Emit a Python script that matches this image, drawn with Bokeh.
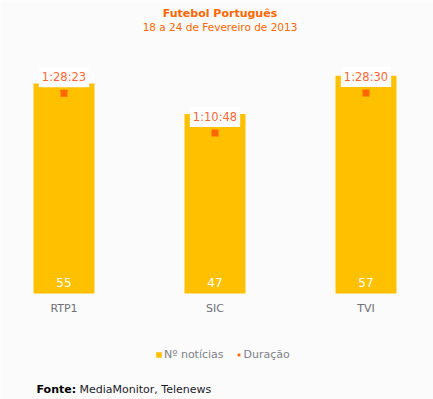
from bokeh.plotting import figure
from bokeh.models import Range1d, Label, Legend, LegendItem
from bokeh.core.properties import value
from bokeh.embed import file_html
from bokeh.resources import INLINE

# ---- data ----
channels = ["RTP1", "SIC", "TVI"]
noticias = [55, 47, 57]
duracao_labels = ["1:28:23", "1:10:48", "1:28:30"]
duracao_seg = [5303, 4248, 5310]
title_text = "Futebol Português"
subtitle_text = "18 a 24 de Fevereiro de 2013"
legend_labels = ["Nº notícias", "Duração"]
fonte_bold = "Fonte:"
fonte_text = "MediaMonitor, Telenews"

FONT = "DejaVu Sans"
BAR = "#FFC000"
MARK = "#FF6600"
ORANGE_TXT = "#FF6633"
BG = "#FBFBFB"

W, H = 433, 399
xs = list(range(len(channels)))

p = figure(width=W, height=H, output_backend="svg", toolbar_location=None,
           x_range=Range1d(-0.4205, 2.447), y_range=Range1d(-27.76, 76.74),
           x_axis_location=None, y_axis_location=None, min_border=0,
           background_fill_color=BG, border_fill_color=BG, outline_line_color=None)
p.grid.visible = False
p.extra_y_ranges = {"dur": Range1d(-2807, 7760)}

bars = p.vbar(x=xs, top=noticias, bottom=0, width=0.404, fill_color=BAR, line_color=None)
marks = p.scatter(x=xs, y=duracao_seg, y_range_name="dur", marker="square", size=7,
                  fill_color=MARK, line_color=None)

# duration labels with white box
p.text(x=xs, y=duracao_seg, text=duracao_labels, y_range_name="dur", y_offset=-16,
       text_align="center", text_baseline="middle", text_color=ORANGE_TXT,
       text_font=value(FONT), text_font_size="11.5px",
       background_fill_color="white", padding=3)

# bar values
p.text(x=xs, y=[0] * len(xs), text=[str(n) for n in noticias], y_offset=-11,
       text_align="center", text_baseline="middle", text_color="white",
       text_font=value(FONT), text_font_size="12px")

# category labels
p.text(x=xs, y=[0] * len(xs), text=channels, y_offset=15,
       text_align="center", text_baseline="middle", text_color="#707078",
       text_font=value(FONT), text_font_size="11px")

# titles
p.add_layout(Label(x=219.5, y=H - 13, x_units="screen", y_units="screen", text=title_text,
                   text_align="center", text_baseline="middle", text_color=MARK,
                   text_font=FONT, text_font_style="bold", text_font_size="11px"))
p.add_layout(Label(x=219.5, y=H - 26.5, x_units="screen", y_units="screen", text=subtitle_text,
                   text_align="center", text_baseline="middle", text_color=MARK,
                   text_font=FONT, text_font_size="10.5px"))

# source
p.add_layout(Label(x=36, y=H - 389, x_units="screen", y_units="screen", text=fonte_bold,
                   text_align="left", text_baseline="middle", text_color="#000000",
                   text_font=FONT, text_font_style="bold", text_font_size="11px"))
p.add_layout(Label(x=79, y=H - 389, x_units="screen", y_units="screen", text=fonte_text,
                   text_align="left", text_baseline="middle", text_color="#1A1A2A",
                   text_font=FONT, text_font_size="11px"))

legend = Legend(items=[LegendItem(label=legend_labels[0], renderers=[bars]),
                       LegendItem(label=legend_labels[1], renderers=[marks])],
                location=(155, 38), orientation="horizontal",
                padding=0, margin=0, spacing=11, label_standoff=2,
                glyph_width=7, glyph_height=7, label_height=12,
                label_text_font=FONT, label_text_font_size="11px",
                label_text_color="#7F7F88",
                background_fill_alpha=0, border_line_color=None)
p.add_layout(legend)

open("out.html", "w").write(file_html(p, INLINE))
